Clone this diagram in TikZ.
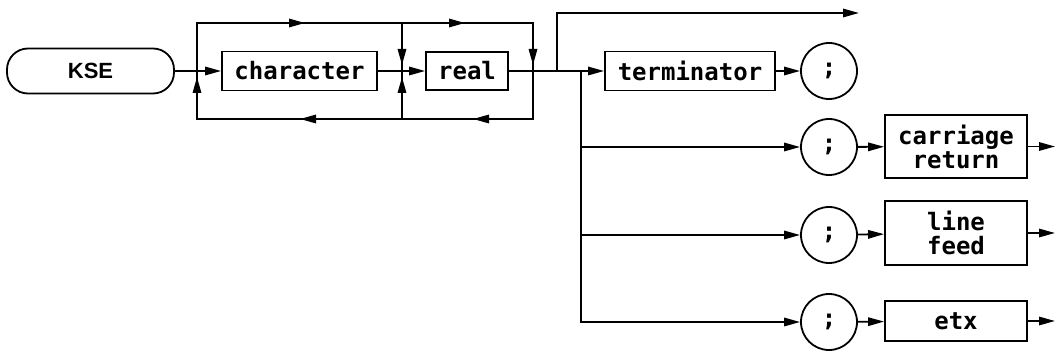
\documentclass[tikz,border=0pt]{standalone}
\usepackage{fontspec}
\usetikzlibrary{arrows.meta,decorations.markings}
\newfontfamily\ksefont{Liberation Sans}
\newfontfamily\hpfont{DejaVu Sans Mono}
\begin{document}
\begin{tikzpicture}[x=0.5pt,y=-0.5pt,line width=0.9pt,
  >={Triangle[length=8pt,width=4.2pt]},
  box/.style={draw,rectangle,inner sep=0pt,align=center,
    font=\hpfont\bfseries\fontsize{12}{12}\selectfont},
  circ/.style={draw,circle,minimum size=28pt,inner sep=0pt,
    font=\hpfont\bfseries\fontsize{12}{12}\selectfont},
  marked/.style={postaction={decorate}}]
\useasboundingbox (0,0) rectangle (1056,352);

% nodes
\node[draw,rectangle,rounded corners=10.5pt,minimum width=83.5pt,minimum height=22.5pt,
  inner sep=0pt,font=\ksefont\bfseries\fontsize{11}{13}\selectfont] (kse) at (90.5,71) {KSE};
\node[box,minimum width=77.5pt,minimum height=19.5pt] (char) at (299.5,71) {character};
\node[box,minimum width=41pt,minimum height=19pt] (real) at (467,71) {real};
\node[box,minimum width=85pt,minimum height=19.5pt] (term) at (690,71) {terminator};
\node[circ] (s0) at (829,71) {;};
\node[circ] (s1) at (829,147) {;};
\node[circ] (s2) at (829,235) {;};
\node[circ] (s3) at (829,322) {;};
\node[box,minimum width=71pt,minimum height=31.5pt] (cr) at (956,146.5) {carriage\\return};
\node[box,minimum width=71pt,minimum height=32pt] (lf) at (956,233) {line\\feed};
\node[box,minimum width=71pt,minimum height=20pt] (etx) at (956,321) {etx};

% junction coordinates
\coordinate (j1) at (197,71);
\coordinate (j2) at (402,71);
\coordinate (j3) at (533,71);
\coordinate (j4) at (557,71);
\coordinate (j5) at (581,71);
\coordinate (t1) at (197,23);
\coordinate (t2) at (402,23);
\coordinate (t3) at (533,23);
\coordinate (b1) at (197,119);
\coordinate (b2) at (402,119);
\coordinate (b3) at (533,119);
\coordinate (t4) at (557,13);
\coordinate (e4) at (859,13);
\coordinate (o1) at (1055,146.5);
\coordinate (o2) at (1055,233);
\coordinate (o3) at (1055,321);

% main line
\draw[->] (kse) -- (char);
\draw[->] (char) -- (real);
\draw[->] (real) -- (term);
\draw[->] (term) -- (s0);

% loop over character / real
\draw[marked,decoration={markings,
    mark=at position 78pt with {\arrow{>}},
    mark=at position 158pt with {\arrow{>}},
    mark=at position 213pt with {\arrow{>}}}]
  (j1) -- (t1) -- (t3) -- (j3);
\draw[marked,decoration={markings,mark=at position 21pt with {\arrow{>}}}]
  (t2) -- (j2);
\draw[marked,decoration={markings,
    mark=at position 54pt with {\arrow{>}},
    mark=at position 140.5pt with {\arrow{>}},
    mark=at position 213pt with {\arrow{>}}}]
  (j3) -- (b3) -- (b1) -- (j1);
\draw[marked,decoration={markings,mark=at position 21pt with {\arrow{>}}}]
  (b2) -- (j2);

% bypass to the end
\draw[->] (j4) -- (t4) -- (e4);

% branches
\draw[->] (j5) |- (s1);
\draw[->] (j5) |- (s2);
\draw[->] (j5) |- (s3);
\draw[->] (s1) -- (cr);
\draw[->] (s2) -- (lf);
\draw[->] (s3) -- (etx);
\draw[->] (cr) -- (o1);
\draw[->] (lf) -- (o2);
\draw[->] (etx) -- (o3);
\end{tikzpicture}
\end{document}
